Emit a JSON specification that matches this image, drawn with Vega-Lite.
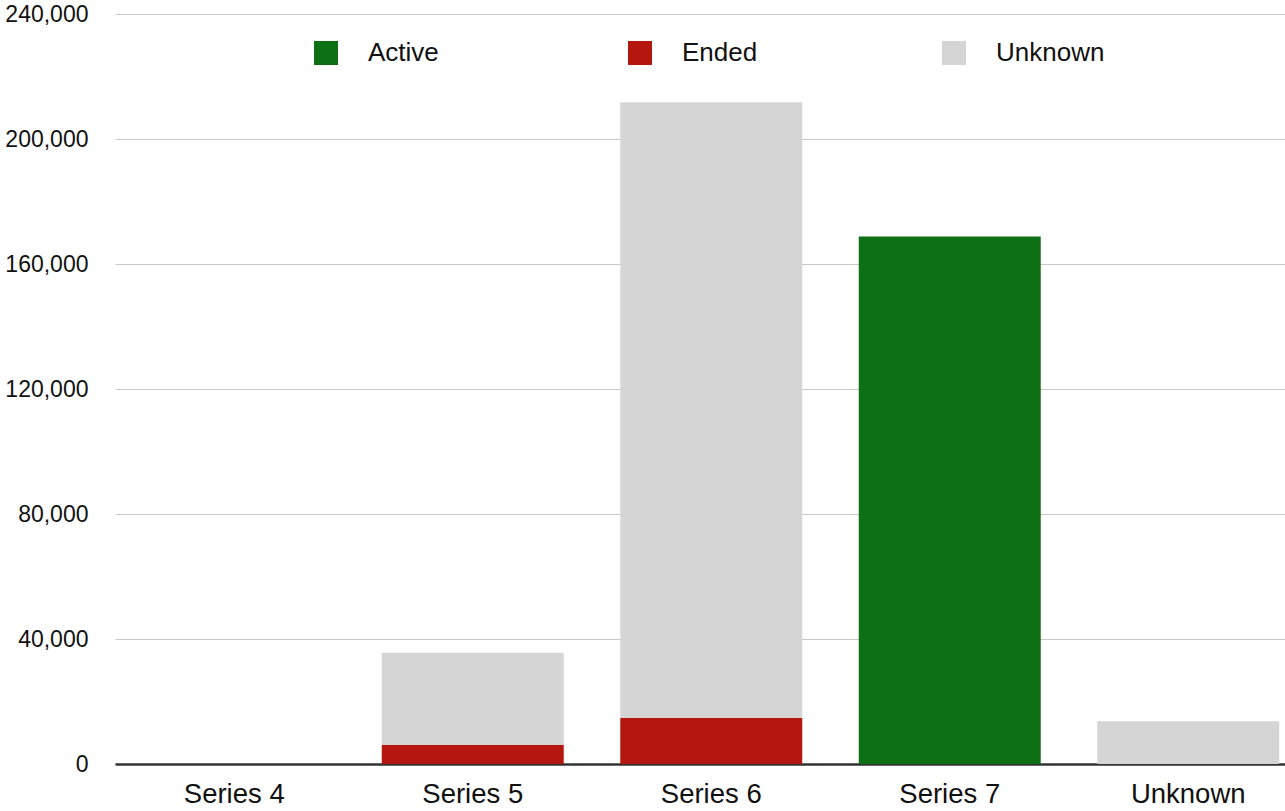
{
  "$schema": "https://vega.github.io/schema/vega-lite/v6.json",
  "autosize": {"type": "none"},
  "padding": {"left": 115, "top": 14, "right": 0, "bottom": 47},
  "width": 1170,
  "height": 750,
  "background": "white",
  "data": {
    "values": [
      {"series": "Series 4", "status": "Unknown", "count": 0},
      {"series": "Series 5", "status": "Ended", "count": 6200},
      {"series": "Series 5", "status": "Unknown", "count": 29400},
      {"series": "Series 6", "status": "Ended", "count": 14700},
      {"series": "Series 6", "status": "Unknown", "count": 197100},
      {"series": "Series 7", "status": "Active", "count": 168800},
      {"series": "Unknown", "status": "Unknown", "count": 13700}
    ]
  },
  "mark": {"type": "bar", "strokeWidth": 0},
  "encoding": {
    "x": {
      "field": "series",
      "type": "nominal",
      "sort": null,
      "title": null,
      "scale": {"range": [0, 1192.5], "paddingInner": 0.237, "paddingOuter": 0.1185},
      "axis": {
        "labelAngle": 0,
        "labelFont": "Liberation Sans",
        "labelFontSize": 27.5,
        "labelColor": "#111111",
        "labelPadding": 16,
        "ticks": false,
        "tickSize": 0,
        "domainColor": "#333333",
        "domainWidth": 2.5,
        "grid": false
      }
    },
    "y": {
      "field": "count",
      "type": "quantitative",
      "stack": "zero",
      "title": null,
      "scale": {"domain": [0, 240000], "nice": false},
      "axis": {
        "values": [0, 40000, 80000, 120000, 160000, 200000, 240000],
        "format": ",d",
        "labelFont": "Liberation Sans",
        "labelFontSize": 23,
        "labelColor": "#111111",
        "labelPadding": 27,
        "ticks": false,
        "tickSize": 0,
        "domain": false,
        "grid": true,
        "gridColor": "#c8c8c8",
        "gridWidth": 1
      }
    },
    "order": {"field": "status", "sort": "ascending"},
    "color": {
      "field": "status",
      "type": "nominal",
      "title": null,
      "scale": {
        "domain": ["Active", "Ended", "Unknown"],
        "range": ["#0e7014", "#b3170f", "#d5d5d5"]
      },
      "legend": {
        "orient": "none",
        "direction": "horizontal",
        "legendX": 198,
        "legendY": 26,
        "padding": 0,
        "symbolType": "square",
        "symbolSize": 576,
        "symbolStrokeWidth": 0,
        "symbolOpacity": 1,
        "labelFont": "Liberation Sans",
        "labelFontSize": 26,
        "labelColor": "#111111",
        "labelOffset": 29,
        "gridAlign": "all",
        "columnPadding": 150
      }
    }
  },
  "config": {
    "view": {"stroke": null}
  }
}
